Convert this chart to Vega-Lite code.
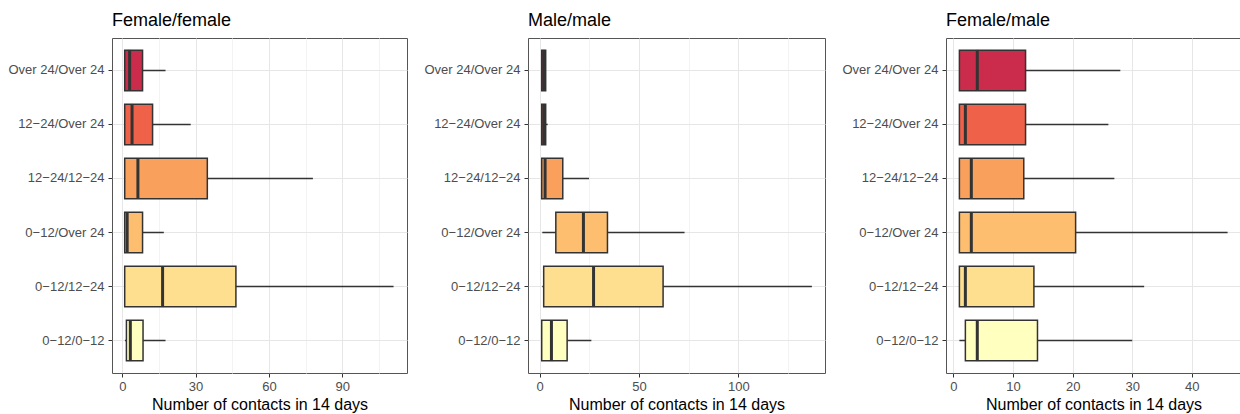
{
  "$schema": "https://vega.github.io/schema/vega-lite/v6.json",
  "padding": {"left": 7, "top": 11, "right": 0, "bottom": 0},
  "data": {"values": [
    {"panel": "Female/female", "group": "Over 24/Over 24", "lower": 1, "q1": 1, "median": 3, "q3": 8.3, "upper": 17.7},
    {"panel": "Female/female", "group": "12−24/Over 24", "lower": 1, "q1": 1, "median": 4, "q3": 12.4, "upper": 28},
    {"panel": "Female/female", "group": "12−24/12−24", "lower": 1, "q1": 1, "median": 6.4, "q3": 34.8, "upper": 78},
    {"panel": "Female/female", "group": "0−12/Over 24", "lower": 1, "q1": 1, "median": 2, "q3": 8.3, "upper": 17},
    {"panel": "Female/female", "group": "0−12/12−24", "lower": 1, "q1": 1, "median": 16.5, "q3": 46.5, "upper": 111},
    {"panel": "Female/female", "group": "0−12/0−12", "lower": 1.1, "q1": 1.7, "median": 3.3, "q3": 8.5, "upper": 17.7},
    {"panel": "Male/male", "group": "Over 24/Over 24", "lower": 1, "q1": 1, "median": 2, "q3": 3, "upper": 3},
    {"panel": "Male/male", "group": "12−24/Over 24", "lower": 1, "q1": 1, "median": 2, "q3": 3, "upper": 4},
    {"panel": "Male/male", "group": "12−24/12−24", "lower": 1, "q1": 1, "median": 2.7, "q3": 11.6, "upper": 24.8},
    {"panel": "Male/male", "group": "0−12/Over 24", "lower": 1.3, "q1": 8.1, "median": 22, "q3": 34.1, "upper": 72.9},
    {"panel": "Male/male", "group": "0−12/12−24", "lower": 1.3, "q1": 2, "median": 27.1, "q3": 62.1, "upper": 137},
    {"panel": "Male/male", "group": "0−12/0−12", "lower": 1, "q1": 1, "median": 5.9, "q3": 13.8, "upper": 26},
    {"panel": "Female/male", "group": "Over 24/Over 24", "lower": 1, "q1": 1, "median": 4, "q3": 12.1, "upper": 28},
    {"panel": "Female/male", "group": "12−24/Over 24", "lower": 1, "q1": 1, "median": 2, "q3": 12.1, "upper": 26},
    {"panel": "Female/male", "group": "12−24/12−24", "lower": 1, "q1": 1, "median": 3, "q3": 11.8, "upper": 27},
    {"panel": "Female/male", "group": "0−12/Over 24", "lower": 1, "q1": 1, "median": 3, "q3": 20.5, "upper": 46},
    {"panel": "Female/male", "group": "0−12/12−24", "lower": 1, "q1": 1, "median": 2, "q3": 13.5, "upper": 32},
    {"panel": "Female/male", "group": "0−12/0−12", "lower": 1, "q1": 2, "median": 4, "q3": 14.1, "upper": 30}
  ]},
  "hconcat": [
    {
      "title": "Female/female",
      "width": 295, "height": 335,
      "transform": [{"filter": "datum.panel === 'Female/female'"}],
      "encoding": {
        "y": {"field": "group", "type": "nominal", "title": null,
          "scale": {"domain": ["Over 24/Over 24", "12−24/Over 24", "12−24/12−24", "0−12/Over 24", "0−12/12−24", "0−12/0−12"], "paddingInner": 0.25, "paddingOuter": 0.225},
          "axis": {"grid": true, "bandPosition": 0.5, "labelPadding": 4}}
      },
      "layer": [
        {"mark": {"type": "rule", "color": "#333", "strokeWidth": 1.5},
         "encoding": {"x": {"field": "lower", "type": "quantitative", "title": "Number of contacts in 14 days",
            "scale": {"domain": [-4.2, 116.5], "nice": false, "zero": false},
            "axis": {"values": [0, 15, 30, 45, 60, 75, 90, 105], "labelExpr": "datum.value % 30 === 0 ? datum.label : ''",
              "tickOpacity": {"condition": {"test": "datum.value % 30 !== 0", "value": 0}, "value": 1},
              "gridColor": {"condition": {"test": "datum.value % 30 !== 0", "value": "#f3f3f3"}, "value": "#e6e6e6"}}},
           "x2": {"field": "upper"}}},
        {"mark": {"type": "bar", "stroke": "#333", "strokeWidth": 1.5, "opacity": 1},
         "encoding": {"x": {"field": "q1", "type": "quantitative"}, "x2": {"field": "q3"},
           "color": {"field": "group", "type": "nominal", "legend": null,
             "scale": {"domain": ["Over 24/Over 24", "12−24/Over 24", "12−24/12−24", "0−12/Over 24", "0−12/12−24", "0−12/0−12"], "range": ["#cb2c4b", "#ef6149", "#f8a05c", "#fdbe6f", "#fedf90", "#ffffbf"]}}}},
        {"mark": {"type": "tick", "color": "#333", "thickness": 3, "size": 41, "orient": "vertical", "opacity": 1},
         "encoding": {"x": {"field": "median", "type": "quantitative"}}}
      ]
    },
    {
      "title": "Male/male",
      "width": 297, "height": 335,
      "transform": [{"filter": "datum.panel === 'Male/male'"}],
      "encoding": {
        "y": {"field": "group", "type": "nominal", "title": null,
          "scale": {"domain": ["Over 24/Over 24", "12−24/Over 24", "12−24/12−24", "0−12/Over 24", "0−12/12−24", "0−12/0−12"], "paddingInner": 0.25, "paddingOuter": 0.225},
          "axis": {"grid": true, "bandPosition": 0.5, "labelPadding": 4}}
      },
      "layer": [
        {"mark": {"type": "rule", "color": "#333", "strokeWidth": 1.5},
         "encoding": {"x": {"field": "lower", "type": "quantitative", "title": "Number of contacts in 14 days",
            "scale": {"domain": [-5.9, 143.6], "nice": false, "zero": false},
            "axis": {"values": [0, 25, 50, 75, 100, 125], "labelExpr": "datum.value % 50 === 0 ? datum.label : ''",
              "tickOpacity": {"condition": {"test": "datum.value % 50 !== 0", "value": 0}, "value": 1},
              "gridColor": {"condition": {"test": "datum.value % 50 !== 0", "value": "#f3f3f3"}, "value": "#e6e6e6"}}},
           "x2": {"field": "upper"}}},
        {"mark": {"type": "bar", "stroke": "#333", "strokeWidth": 1.5, "opacity": 1},
         "encoding": {"x": {"field": "q1", "type": "quantitative"}, "x2": {"field": "q3"},
           "color": {"field": "group", "type": "nominal", "legend": null,
             "scale": {"domain": ["Over 24/Over 24", "12−24/Over 24", "12−24/12−24", "0−12/Over 24", "0−12/12−24", "0−12/0−12"], "range": ["#cb2c4b", "#ef6149", "#f8a05c", "#fdbe6f", "#fedf90", "#ffffbf"]}}}},
        {"mark": {"type": "tick", "color": "#333", "thickness": 3, "size": 41, "orient": "vertical", "opacity": 1},
         "encoding": {"x": {"field": "median", "type": "quantitative"}}}
      ]
    },
    {
      "title": "Female/male",
      "width": 295, "height": 335,
      "transform": [{"filter": "datum.panel === 'Female/male'"}],
      "encoding": {
        "y": {"field": "group", "type": "nominal", "title": null,
          "scale": {"domain": ["Over 24/Over 24", "12−24/Over 24", "12−24/12−24", "0−12/Over 24", "0−12/12−24", "0−12/0−12"], "paddingInner": 0.25, "paddingOuter": 0.225},
          "axis": {"grid": true, "bandPosition": 0.5, "labelPadding": 4}}
      },
      "layer": [
        {"mark": {"type": "rule", "color": "#333", "strokeWidth": 1.5},
         "encoding": {"x": {"field": "lower", "type": "quantitative", "title": "Number of contacts in 14 days",
            "scale": {"domain": [-1.25, 48.25], "nice": false, "zero": false},
            "axis": {"values": [0, 5, 10, 15, 20, 25, 30, 35, 40, 45], "labelExpr": "datum.value % 10 === 0 ? datum.label : ''",
              "tickOpacity": {"condition": {"test": "datum.value % 10 !== 0", "value": 0}, "value": 1},
              "gridColor": {"condition": {"test": "datum.value % 10 !== 0", "value": "#f3f3f3"}, "value": "#e6e6e6"}}},
           "x2": {"field": "upper"}}},
        {"mark": {"type": "bar", "stroke": "#333", "strokeWidth": 1.5, "opacity": 1},
         "encoding": {"x": {"field": "q1", "type": "quantitative"}, "x2": {"field": "q3"},
           "color": {"field": "group", "type": "nominal", "legend": null,
             "scale": {"domain": ["Over 24/Over 24", "12−24/Over 24", "12−24/12−24", "0−12/Over 24", "0−12/12−24", "0−12/0−12"], "range": ["#cb2c4b", "#ef6149", "#f8a05c", "#fdbe6f", "#fedf90", "#ffffbf"]}}}},
        {"mark": {"type": "tick", "color": "#333", "thickness": 3, "size": 41, "orient": "vertical", "opacity": 1},
         "encoding": {"x": {"field": "median", "type": "quantitative"}}}
      ]
    }
  ],
  "config": {
    "font": "Liberation Sans",
    "view": {"stroke": "#555", "strokeWidth": 1},
    "axis": {"domain": false, "tickColor": "#333", "tickSize": 4, "labelColor": "#4d4d4d", "labelFontSize": 13, "titleFontSize": 16, "titleColor": "#000", "titleFontWeight": "normal", "gridColor": "#e6e6e6", "titlePadding": 3, "labelPadding": 3},
    "title": {"fontSize": 18, "fontWeight": "normal", "anchor": "start", "frame": "group", "color": "#000", "offset": 8},
    "concat": {"spacing": 15}
  }
}
